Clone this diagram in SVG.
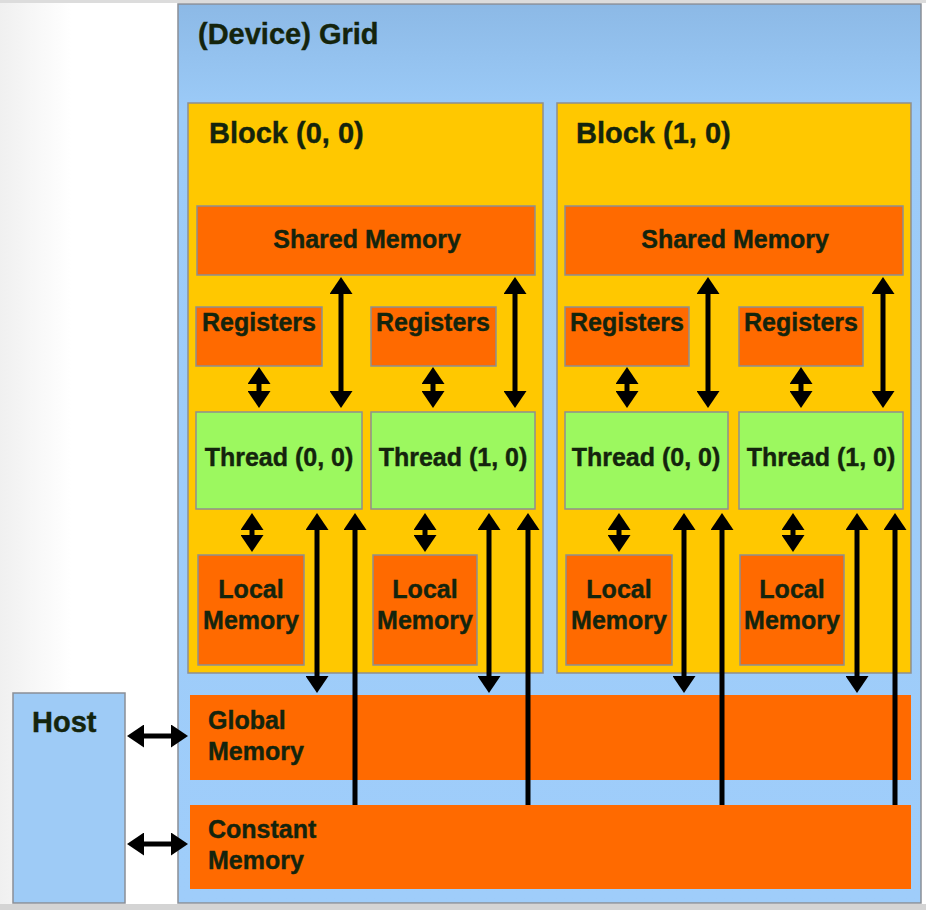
<svg xmlns="http://www.w3.org/2000/svg" width="926" height="910" viewBox="0 0 926 910">
<defs>
<linearGradient id="gridFill" x1="0" y1="0" x2="0" y2="1">
<stop offset="0" stop-color="#8cb9e6"/>
<stop offset="0.12" stop-color="#9ccbf8"/>
<stop offset="1" stop-color="#9fcdfa"/>
</linearGradient>
<linearGradient id="bgFill" x1="0" y1="0" x2="1" y2="0">
<stop offset="0" stop-color="#f0f0f0"/>
<stop offset="0.4" stop-color="#ffffff"/>
<stop offset="1" stop-color="#ffffff"/>
</linearGradient>
<marker id="ah" markerUnits="userSpaceOnUse" markerWidth="17" markerHeight="23" viewBox="0 0 17 23" refX="1" refY="11.5" orient="auto-start-reverse">
<path d="M0,0 L17,11.5 L0,23 z" fill="#000"/>
</marker>
</defs>
<style>
.grid{fill:url(#gridFill);stroke:#8a8f96;stroke-width:1.5}
.host{fill:#9ecbf6;stroke:#8a8f96;stroke-width:1.5}
.block{fill:#ffc800;stroke:#8f8f8f;stroke-width:1.5}
.mem{fill:#ff6a00;stroke:#8f8f8f;stroke-width:1.5}
.gmem{fill:#ff6a00;stroke:none}
.thr{fill:#9cf85f;stroke:#8f8f8f;stroke-width:1.5}
text{font-family:"Liberation Sans",Arial,sans-serif;font-weight:bold;fill:#14240d;stroke:#14240d;stroke-width:0.4}
.t25{font-size:25px}
.t28{font-size:29px}
.c{text-anchor:middle}
.conn line{stroke:#000;stroke-width:5}
.dbl{marker-start:url(#ah);marker-end:url(#ah)}
.one{marker-end:url(#ah)}
</style>
<rect x="0" y="0" width="178" height="910" fill="url(#bgFill)"/>
<rect x="178" y="0" width="748" height="910" fill="#ffffff"/>
<rect x="0" y="904" width="926" height="6" fill="#d4d4d4"/>
<rect x="0" y="0" width="926" height="3" fill="#dcdcdc"/>

<g id="grid">
<rect class="grid" x="178" y="4" width="743" height="899"/>
<text class="t28" x="198" y="44">(Device) Grid</text>
</g>

<g id="host">
<rect class="host" x="13" y="693" width="112" height="210"/>
<text class="t28" x="32" y="732">Host</text>
</g>

<g id="block00">
<rect class="block" x="188" y="103" width="355" height="570"/>
<text class="t28" x="209" y="143">Block (0, 0)</text>
</g>
<g id="block10">
<rect class="block" x="557" y="103" width="354" height="570"/>
<text class="t28" x="576" y="143">Block (1, 0)</text>
</g>

<g id="shared00">
<rect class="mem" x="197" y="206" width="338" height="69"/>
<text class="t25 c" x="367" y="248">Shared Memory</text>
</g>
<g id="shared10">
<rect class="mem" x="565" y="206" width="338" height="69"/>
<text class="t25 c" x="735" y="248">Shared Memory</text>
</g>

<g id="reg00_0">
<rect class="mem" x="196" y="307" width="126" height="59"/>
<text class="t25 c" x="259" y="331">Registers</text>
</g>
<g id="reg00_1">
<rect class="mem" x="371" y="307" width="125" height="59"/>
<text class="t25 c" x="433" y="331">Registers</text>
</g>
<g id="reg10_0">
<rect class="mem" x="565" y="307" width="124" height="59"/>
<text class="t25 c" x="627" y="331">Registers</text>
</g>
<g id="reg10_1">
<rect class="mem" x="739" y="307" width="124" height="59"/>
<text class="t25 c" x="801" y="331">Registers</text>
</g>

<g id="thr00_0">
<rect class="thr" x="196" y="412" width="166" height="97"/>
<text class="t25 c" x="279" y="466">Thread (0, 0)</text>
</g>
<g id="thr00_1">
<rect class="thr" x="371" y="412" width="164" height="97"/>
<text class="t25 c" x="453" y="466">Thread (1, 0)</text>
</g>
<g id="thr10_0">
<rect class="thr" x="565" y="412" width="163" height="97"/>
<text class="t25 c" x="646" y="466">Thread (0, 0)</text>
</g>
<g id="thr10_1">
<rect class="thr" x="739" y="412" width="164" height="97"/>
<text class="t25 c" x="821" y="466">Thread (1, 0)</text>
</g>

<g id="loc00_0">
<rect class="mem" x="198" y="555" width="106" height="110"/>
<text class="t25 c" x="251" y="598">Local</text>
<text class="t25 c" x="251" y="629">Memory</text>
</g>
<g id="loc00_1">
<rect class="mem" x="373" y="555" width="104" height="110"/>
<text class="t25 c" x="425" y="598">Local</text>
<text class="t25 c" x="425" y="629">Memory</text>
</g>
<g id="loc10_0">
<rect class="mem" x="566" y="555" width="106" height="110"/>
<text class="t25 c" x="619" y="598">Local</text>
<text class="t25 c" x="619" y="629">Memory</text>
</g>
<g id="loc10_1">
<rect class="mem" x="740" y="555" width="104" height="110"/>
<text class="t25 c" x="792" y="598">Local</text>
<text class="t25 c" x="792" y="629">Memory</text>
</g>

<g id="global">
<rect class="gmem" x="190" y="695" width="721" height="85"/>
<text class="t25" x="208" y="729">Global</text>
<text class="t25" x="208" y="760">Memory</text>
</g>
<g id="constant">
<rect class="gmem" x="190" y="805" width="721" height="84"/>
<text class="t25" x="208" y="838">Constant</text>
<text class="t25" x="208" y="869">Memory</text>
</g>

<g id="connectors" class="conn">
<!-- registers <-> threads -->
<line class="dbl" x1="259" y1="383" x2="259" y2="392"/>
<line class="dbl" x1="433" y1="383" x2="433" y2="392"/>
<line class="dbl" x1="627" y1="383" x2="627" y2="392"/>
<line class="dbl" x1="801" y1="383" x2="801" y2="392"/>
<!-- shared <-> threads -->
<line class="dbl" x1="341" y1="293" x2="341" y2="392"/>
<line class="dbl" x1="515" y1="293" x2="515" y2="392"/>
<line class="dbl" x1="708" y1="293" x2="708" y2="392"/>
<line class="dbl" x1="883" y1="293" x2="883" y2="392"/>
<!-- threads <-> local -->
<line class="dbl" x1="252" y1="529" x2="252" y2="536"/>
<line class="dbl" x1="425" y1="529" x2="425" y2="536"/>
<line class="dbl" x1="619" y1="529" x2="619" y2="536"/>
<line class="dbl" x1="793" y1="529" x2="793" y2="536"/>
<!-- threads <-> global -->
<line class="dbl" x1="317" y1="529" x2="317" y2="677"/>
<line class="dbl" x1="489" y1="529" x2="489" y2="677"/>
<line class="dbl" x1="684" y1="529" x2="684" y2="677"/>
<line class="dbl" x1="857" y1="529" x2="857" y2="677"/>
<!-- constant -> threads -->
<line class="one" x1="355" y1="805" x2="355" y2="529"/>
<line class="one" x1="528" y1="805" x2="528" y2="529"/>
<line class="one" x1="722" y1="805" x2="722" y2="529"/>
<line class="one" x1="895" y1="805" x2="895" y2="529"/>
<!-- host <-> global / constant -->
<line class="dbl" x1="143" y1="736" x2="172" y2="736"/>
<line class="dbl" x1="143" y1="844" x2="172" y2="844"/>
</g>
</svg>
